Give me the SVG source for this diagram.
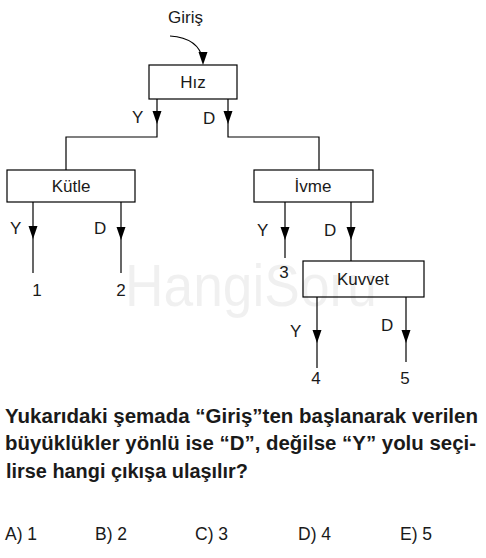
<svg xmlns="http://www.w3.org/2000/svg" xmlns:xlink="http://www.w3.org/1999/xlink" width="486" height="558" viewBox="0 0 486 558">
<style>
.box{fill:#fff;stroke:#000;stroke-width:1.2}
.ln{fill:none;stroke:#000;stroke-width:1.2}
.t{font-family:"Liberation Sans",Arial,sans-serif;font-size:17px;fill:#1a1a1a}
.c{text-anchor:middle}
.q{font-family:"Liberation Sans",Arial,sans-serif;font-size:19.5px;font-weight:bold;fill:#1a1a1a}
.a{font-family:"Liberation Sans",Arial,sans-serif;font-size:17.5px;fill:#1a1a1a}
.wm{font-family:"Liberation Sans",Arial,sans-serif;font-size:60px;fill:#000;fill-opacity:0.06}
</style>
<defs>
<path id="ah" d="M-4.5,-13 L4.5,-13 L0,0 Z" fill="#000"/>
</defs>
<g id="connectors">
<path class="ln" d="M170,36 Q199,38 203,60"/>
<use xlink:href="#ah" x="203" y="65"/>
<path class="ln" d="M157,99 V137 H66 V170"/>
<use xlink:href="#ah" x="157" y="124"/>
<path class="ln" d="M228,99 V137 H319 V170"/>
<use xlink:href="#ah" x="228" y="124"/>
<path class="ln" d="M33,202 V273"/>
<use xlink:href="#ah" x="33" y="239"/>
<path class="ln" d="M121,202 V273"/>
<use xlink:href="#ah" x="121" y="240"/>
<path class="ln" d="M285,202 V258"/>
<use xlink:href="#ah" x="285" y="240"/>
<path class="ln" d="M351,202 V261"/>
<use xlink:href="#ah" x="351" y="240"/>
<path class="ln" d="M317,297 V368"/>
<use xlink:href="#ah" x="317" y="343"/>
<path class="ln" d="M406,297 V362"/>
<use xlink:href="#ah" x="406" y="343"/>
<text class="t" x="168" y="23">Giriş</text>
<text class="t" x="132" y="123">Y</text>
<text class="t" x="203" y="124">D</text>
<text class="t" x="10" y="234">Y</text>
<text class="t" x="94" y="234">D</text>
<text class="t" x="257" y="236">Y</text>
<text class="t" x="324" y="236">D</text>
<text class="t" x="290" y="337">Y</text>
<text class="t" x="381" y="331">D</text>
</g>
<g id="hiz"><rect class="box" x="149" y="65" width="88" height="34"/><text class="t c" x="193" y="88">Hız</text></g>
<g id="kutle"><rect class="box" x="7" y="170" width="128" height="32"/><text class="t c" x="71" y="192">Kütle</text></g>
<g id="ivme"><rect class="box" x="254" y="170" width="119" height="32"/><text class="t c" x="313" y="192">İvme</text></g>
<g id="kuvvet"><rect class="box" x="303" y="261" width="121" height="36"/><text class="t c" x="363" y="285">Kuvvet</text></g>
<g id="out1"><text class="t c" x="37" y="296">1</text></g>
<g id="out2"><text class="t c" x="121" y="296">2</text></g>
<g id="out3"><text class="t c" x="284" y="278">3</text></g>
<g id="out4"><text class="t c" x="316" y="384">4</text></g>
<g id="out5"><text class="t c" x="405" y="384">5</text></g>
<text class="wm" x="125" y="306" textLength="252" lengthAdjust="spacingAndGlyphs">HangiSoru</text>
<text class="q" x="5" y="423" textLength="473" lengthAdjust="spacingAndGlyphs">Yukarıdaki şemada “Giriş”ten başlanarak verilen</text>
<text class="q" x="5" y="450" textLength="471" lengthAdjust="spacingAndGlyphs">büyüklükler yönlü ise “D”, değilse “Y” yolu seçi-</text>
<text class="q" x="6" y="478" textLength="242" lengthAdjust="spacingAndGlyphs">lirse hangi çıkışa ulaşılır?</text>
<text class="a" x="5" y="540">A) 1</text>
<text class="a" x="95" y="540">B) 2</text>
<text class="a" x="195" y="540">C) 3</text>
<text class="a" x="298" y="540">D) 4</text>
<text class="a" x="400" y="540">E) 5</text>
</svg>
